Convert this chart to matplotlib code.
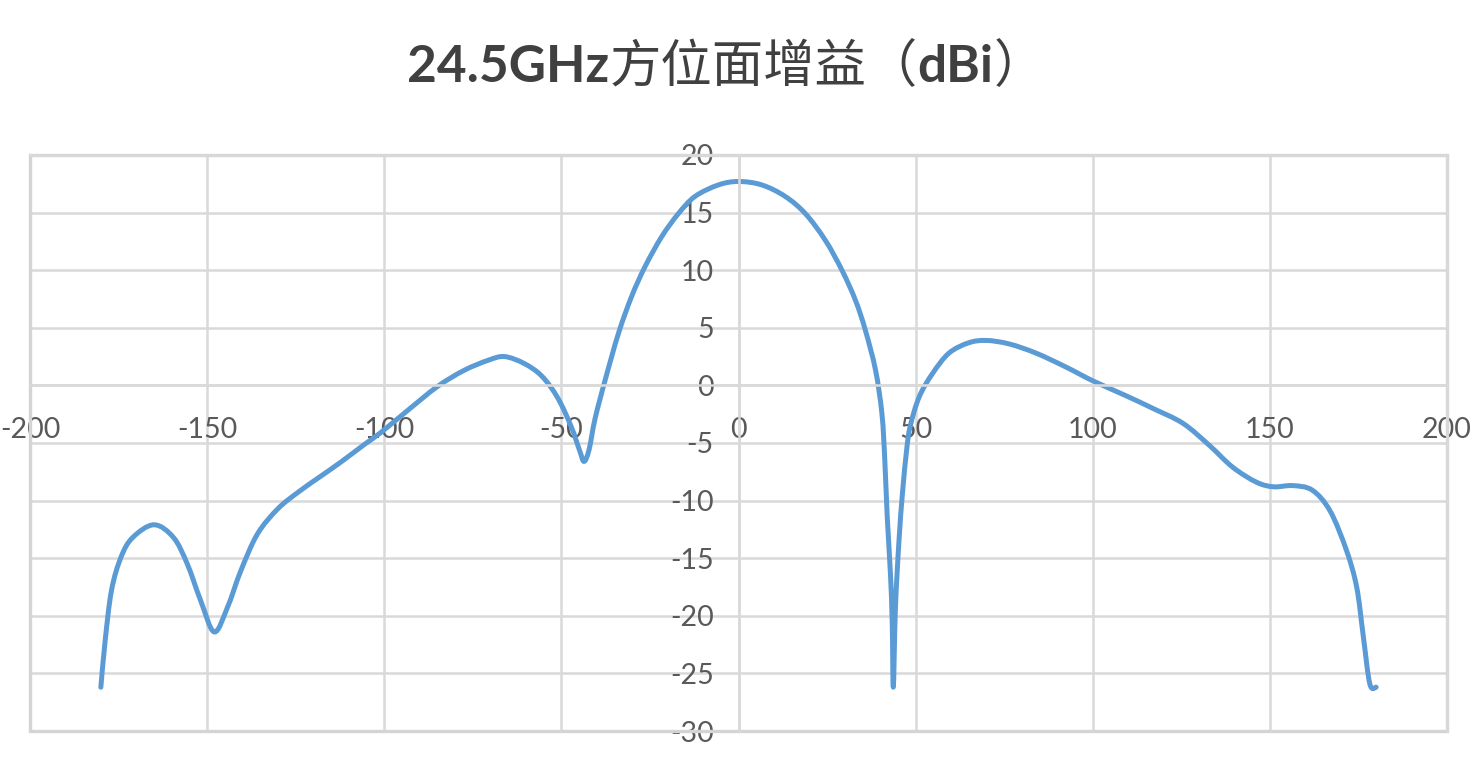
import matplotlib
matplotlib.use("Agg")
import matplotlib.pyplot as plt
from matplotlib.patches import Rectangle, PathPatch
from matplotlib.path import Path
from matplotlib.offsetbox import TextArea, HPacker, AnchoredOffsetbox

plt.rcParams["axes.unicode_minus"] = False

# =========================
# Du lieu (doc tu hinh)
# =========================
angle = [-180, -178.8, -177, -174.3, -171, -165, -159.5, -155.6, -151.8, -148,
         -144.3, -140.5, -135.8, -130, -124, -118, -112, -105.5, -101, -93.5,
         -85, -77.5, -70.5, -66, -60.5, -55.5, -51, -47.2, -44.8, -43.6,
         -42.2, -40.5, -37.7, -33.9, -30.2, -26.4, -21.7, -17, -12.3, -5.7,
         0, 6.6, 13.2, 18.9, 24.5, 29.2, 33, 35.8, 38.7, 40.5,
         41.3, 42, 42.9, 43.4, 43.7, 44.3, 45.3, 46.3, 47.5, 48.5,
         51, 54.7, 59.4, 65, 70, 76.4, 84, 92.4, 100, 109.4,
         117, 125.5, 132.9, 139.5, 146.2, 151, 156.5, 162, 167, 171.6,
         174.5, 176.3, 178.2, 180]
gain = [-26.2, -22.2, -17.8, -14.9, -13.2, -12.1, -13.2, -15.5, -18.7, -21.4,
        -19.3, -16.1, -12.9, -10.7, -9.2, -7.9, -6.6, -5.1, -4.1, -2.2,
        -0.1, 1.3, 2.2, 2.5, 1.9, 0.8, -1.1, -3.6, -5.7, -6.6,
        -5.6, -2.9, 0.4, 4.5, 7.7, 10.3, 12.9, 14.9, 16.4, 17.4,
        17.7, 17.4, 16.4, 14.9, 12.6, 10.0, 7.4, 4.8, 1.3, -2.5,
        -6.5, -11.5, -16.4, -20.7, -26.2, -19.3, -13.5, -9.3, -5.5, -3.5,
        -1.0, 1.0, 2.8, 3.7, 3.9, 3.6, 2.8, 1.6, 0.4, -0.9,
        -2.0, -3.3, -5.2, -7.1, -8.4, -8.8, -8.7, -9.1, -10.9, -14.3,
        -17.5, -21.6, -25.9, -26.2]

x_ticks = list(range(-200, 201, 50))
y_ticks = list(range(-30, 21, 5))

grid_c = "#d9d9d9"
label_c = "#595959"


def smooth_path(xs, ys):
    # duong cong Bezier qua cac diem (kieu "smoothed line" cua Excel)
    n = len(xs)
    verts = [(xs[0], ys[0])]
    codes = [Path.MOVETO]
    for i in range(n - 1):
        x0, y0 = xs[max(i - 1, 0)], ys[max(i - 1, 0)]
        x1, y1 = xs[i], ys[i]
        x2, y2 = xs[i + 1], ys[i + 1]
        x3, y3 = xs[min(i + 2, n - 1)], ys[min(i + 2, n - 1)]
        c1 = (x1 + (x2 - x0) / 6, y1 + (y2 - y0) / 6)
        c2 = (x2 - (x3 - x1) / 6, y2 - (y3 - y1) / 6)
        verts += [c1, c2, (x2, y2)]
        codes += [Path.CURVE4] * 3
    return Path(verts, codes)


# =========================
# Ve bieu do
# =========================
fig = plt.figure(figsize=(14.75, 7.69), dpi=100)
ax = fig.add_axes([30 / 1475, 1 - 731 / 769, (1447 - 30) / 1475, (731 - 155) / 769])

ax.add_patch(PathPatch(smooth_path(angle, gain), fill=False, ec="#5B9BD5", lw=3.6,
                       capstyle="round", joinstyle="round", zorder=2))

ax.set_xlim(-200, 200)
ax.set_ylim(-30, 20)
ax.set_xticks(x_ticks)
ax.set_yticks(y_ticks)
ax.grid(True, color=grid_c, lw=1.8)
ax.set_axisbelow(True)

# truc di qua goc toa do nhu Excel
ax.spines["left"].set_position(("data", 0))
ax.spines["bottom"].set_position(("data", 0))
for s in ax.spines.values():
    s.set_color(grid_c)
    s.set_linewidth(1.8)
ax.add_patch(Rectangle((0, 0), 1, 1, transform=ax.transAxes, fill=False,
                       ec="#d4d4d4", lw=2.4, clip_on=False, zorder=0.6))

for lab in ax.get_xticklabels() + ax.get_yticklabels():
    lab.set_fontfamily("Lato")
ax.tick_params(axis="both", length=0, labelsize=20.5, colors=label_c)
ax.tick_params(axis="x", pad=23)
ax.tick_params(axis="y", pad=18)

# tieu de: chu Latin dam, chu Han thuong
tp_bold = dict(fontsize=37, fontweight="bold", family=["Lato", "Noto Sans CJK SC"], color="#404040")
tp_cjk = dict(fontsize=37, fontweight="normal", family=["Noto Sans CJK SC", "DejaVu Sans"], color="#404040")
parts = [TextArea("24.5GHz", textprops=tp_bold),
         TextArea("方位面增益（", textprops=tp_cjk),
         TextArea("dBi", textprops=tp_bold),
         TextArea("）", textprops=tp_cjk)]
pack = HPacker(children=parts, align="baseline", pad=0, sep=0)
title_box = AnchoredOffsetbox(loc="center", child=pack, frameon=False, pad=0, borderpad=0,
                              bbox_to_anchor=(726 / 1475, 1 - 67 / 769),
                              bbox_transform=fig.transFigure)
fig.add_artist(title_box)

fig.savefig("out.png", dpi=100)
plt.close()
